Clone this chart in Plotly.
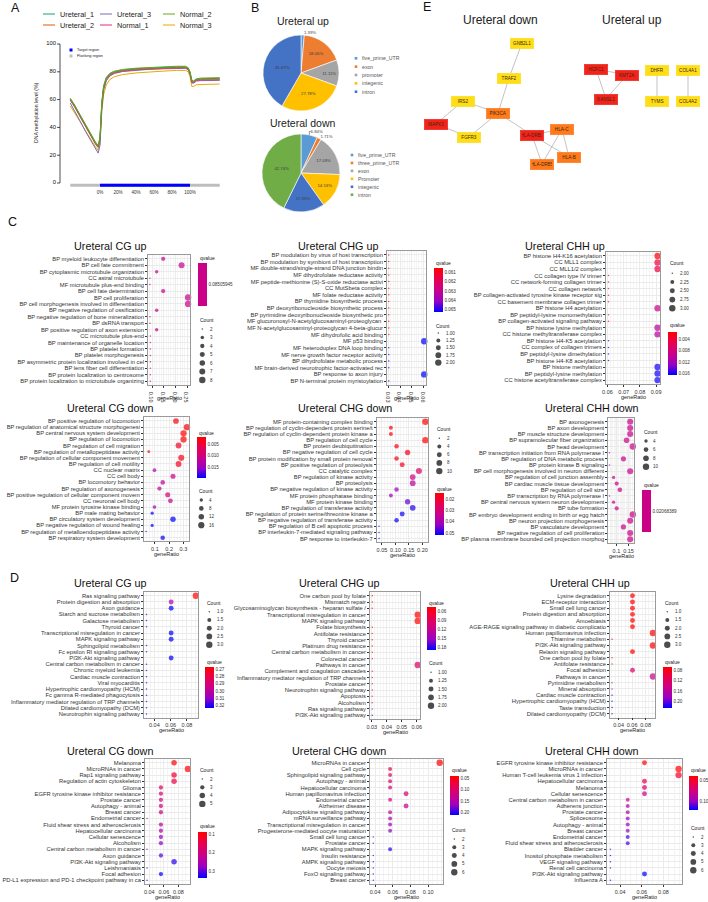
import plotly.graph_objects as go

W, H = 708, 902
FONT = "Liberation Sans, Arial, Helvetica, sans-serif"

# ======================= DATA =======================
# ---- Panel A : methylation profile ----
a_positions = [-33, -28, -22, -16, -10, -5, -2, 0, 2, 4, 7, 11, 16, 25, 40, 55, 70, 85, 95, 98, 100, 102, 104, 107, 112, 120, 133]
a_ureteral_1 = [60.5, 55.5, 48.5, 41.5, 34.5, 29, 26.5, 32, 57, 69, 75.5, 78.5, 80, 81.3, 82.3, 82.9, 83.3, 83.6, 83.6, 82.6, 79.6, 73.6, 73.2, 74.6, 75, 75.1, 75.3]
a_ureteral_2 = [60, 55, 48, 41, 34, 28.5, 26, 31.5, 56, 68.5, 75, 78, 79.6, 80.9, 81.9, 82.5, 82.9, 83.2, 83.2, 82.2, 79.2, 73, 72.8, 74.2, 74.6, 74.6, 74.8]
a_ureteral_3 = [57.5, 52, 44.5, 37, 30, 24.5, 21.5, 27, 53, 66.5, 73.5, 77, 78.8, 80.2, 81.2, 81.8, 82.2, 82.5, 82.5, 81.4, 78.3, 72, 71.8, 73.3, 73.7, 73.7, 73.9]
a_normal_1 = [59.5, 54.5, 47.5, 40.5, 33.5, 28, 25.5, 31, 55.5, 68, 74.5, 77.5, 79.2, 80.5, 81.5, 82.1, 82.5, 82.8, 82.8, 81.8, 78.8, 72.5, 72.3, 73.7, 74.1, 74.1, 74.3]
a_normal_2 = [61, 56, 49, 42, 35, 29.5, 27, 33, 58, 70, 76, 79, 80.5, 81.7, 82.6, 83.2, 83.6, 84, 84, 83, 80, 74, 73.5, 75, 75.5, 75.5, 75.8]
a_normal_3 = [55.5, 50.5, 44, 37.5, 31, 26, 23.5, 28.5, 51, 63.5, 70.5, 74.5, 76.5, 78, 79.2, 80, 80.5, 81, 81, 80, 76.5, 69.5, 69.5, 70.7, 71, 71, 71.2]
a_series_names = ["Ureteral_1", "Ureteral_3", "Normal_2", "Ureteral_2", "Normal_1", "Normal_3"]
a_y_ticks = [0, 20, 40, 60, 80, 100]
a_x_ticks = [0, 20, 40, 60, 80, 100]
a_x_ticklabels = ["0%", "20%", "40%", "60%", "80%", "100%"]
a_target_region = [0, 100]
a_flank_region = [-33, 133]

# ---- Panel B : genomic feature pies ----
b_up_labels = ["five_prime_UTR", "exon", "promoter", "integenic", "intron"]
b_up_values = [1.39, 18.06, 11.11, 27.78, 41.67]
b_down_labels = ["five_prime_UTR", "three_prime_UTR", "exon", "Promoter", "integenic", "intron"]
b_down_values = [6.84, 1.71, 17.09, 14.53, 17.09, 42.74]

# ---- Panel E : PPI networks ----
e_nodes = ["GNB2L1", "TRAF2", "IRS2", "PIK3CA", "MAPK3", "FGFR3", "HLA-DRB1", "HLA-C", "HLA-B", "HLA-DRB5",
           "HCFC1", "KMT2A", "KANSL1", "DHFR", "TYMS", "COL4A1", "COL4A2"]
e_node_level = ["low", "low", "low", "mid", "high", "low", "high", "mid", "mid", "mid",
                "high", "high", "high", "low", "low", "low", "low"]
e_edges = [("GNB2L1", "TRAF2"), ("TRAF2", "PIK3CA"), ("IRS2", "PIK3CA"), ("IRS2", "MAPK3"), ("MAPK3", "FGFR3"),
           ("FGFR3", "PIK3CA"), ("PIK3CA", "HLA-DRB1"), ("HLA-DRB1", "HLA-C"), ("HLA-DRB1", "HLA-B"),
           ("HLA-DRB1", "HLA-DRB5"), ("HLA-C", "HLA-B"), ("HLA-C", "HLA-DRB5"),
           ("HCFC1", "KMT2A"), ("HCFC1", "KANSL1"), ("KMT2A", "KANSL1"), ("DHFR", "TYMS"), ("COL4A1", "COL4A2")]

# ---- Panel C : GO dot plots ----
c_cg_up_terms = ["BP myeloid leukocyte differentiation", "BP cell fate commitment", "BP cytoplasmic microtubule organization",
                 "CC astral microtubule", "MF microtubule plus-end binding", "BP cell fate determination",
                 "BP cell proliferation", "BP cell morphogenesis involved in differentiation",
                 "BP negative regulation of ossification", "BP negative regulation of bone mineralization",
                 "BP dsRNA transport", "BP positive regulation of axon extension", "CC microtubule plus-end",
                 "BP maintenance of organelle location", "BP platelet formation", "BP platelet morphogenesis",
                 "BP asymmetric protein localization involved in cel", "BP lens fiber cell differentiation",
                 "BP protein localization to centrosome", "BP protein localization to microtubule organizing"]
c_cg_up_ratio = [0.147, 0.226, 0.119, 0.09, 0.09, 0.147, 0.254, 0.254, 0.119, 0.09, 0.09, 0.119, 0.092, 0.092, 0.092, 0.092, 0.092, 0.092, 0.092, 0.092]
c_cg_up_count = [4, 7, 3, 2, 2, 4, 8, 8, 3, 2, 2, 3, 2, 2, 2, 2, 2, 2, 2, 2]
c_cg_up_q = [0.08505945] * 20
c_cg_up_xticks = ["0.10", "0.15", "0.20", "0.25"]
c_cg_up_count_breaks = [2, 3, 4, 5, 6, 7, 8]
c_cg_up_q_breaks = ["0.08505945"]

c_chg_up_terms = ["BP modulation by virus of host transcription", "BP modulation by symbiont of host transcription",
                  "MF double-strand/single-strand DNA junction bindin", "MF dihydrofolate reductase activity",
                  "MF peptide-methionine (S)-S-oxide reductase activi", "CC MutSbeta complex",
                  "MF folate reductase activity", "BP thymidine biosynthetic process",
                  "BP deoxyribonucleoside biosynthetic process", "BP pyrimidine deoxyribonucleoside biosynthetic pro",
                  "MF glucuronosyl-N-acetylglucosaminyl-proteoglycan ", "MF N-acetylglucosaminyl-proteoglycan 4-beta-glucur",
                  "MF dihydrofolic acid binding", "MF p53 binding", "MF heteroduplex DNA loop binding",
                  "MF nerve growth factor receptor activity", "BP dihydrofolate metabolic process",
                  "MF brain-derived neurotrophic factor-activated rec", "BP response to axon injury",
                  "BP N-terminal protein myristoylation"]
c_chg_up_ratio = [0.0303] * 13 + [0.0606, 0.0303, 0.0303, 0.0303, 0.0303, 0.0606, 0.0303]
c_chg_up_count = [1] * 13 + [2, 1, 1, 1, 1, 2, 1]
c_chg_up_q = [0.0605] * 13 + [0.0653] * 7
c_chg_up_xticks = ["0.03", "0.04", "0.05", "0.06"]
c_chg_up_count_breaks = ["1.00", "1.25", "1.50", "1.75", "2.00"]
c_chg_up_q_breaks = ["0.061", "0.062", "0.063", "0.064", "0.065"]

c_chh_up_terms = ["BP histone H4-K16 acetylation", "CC MLL1 complex", "CC MLL1/2 complex", "CC collagen type IV trimer",
                  "CC network-forming collagen trimer", "CC collagen network",
                  "BP collagen-activated tyrosine kinase receptor sig", "CC basement membrane collagen trimer",
                  "BP histone H4 acetylation", "BP peptidyl-lysine monomethylation",
                  "BP collagen-activated signaling pathway", "BP histone lysine methylation",
                  "CC histone methyltransferase complex", "BP histone H4-K5 acetylation",
                  "CC complex of collagen trimers", "BP peptidyl-lysine dimethylation", "BP histone H4-K8 acetylation",
                  "BP histone methylation", "BP peptidyl-lysine methylation", "CC histone acetyltransferase complex"]
c_chh_up_ratio = [0.0909, 0.0909, 0.0909, 0.0606, 0.0606, 0.0606, 0.0606, 0.0606, 0.0909, 0.0606,
                  0.0606, 0.0909, 0.0909, 0.0606, 0.0606, 0.0606, 0.0606, 0.0909, 0.0909, 0.0909]
c_chh_up_count = [3, 3, 3, 2, 2, 2, 2, 2, 3, 2, 2, 3, 3, 2, 2, 2, 2, 3, 3, 3]
c_chh_up_q = [0.0014, 0.0045, 0.0045, 0.0038, 0.0038, 0.0038, 0.0038, 0.0038, 0.0088, 0.0045,
              0.0045, 0.0105, 0.0105, 0.0165, 0.0165, 0.0165, 0.0165, 0.016, 0.016, 0.016]
c_chh_up_xticks = ["0.06", "0.07", "0.08", "0.09"]
c_chh_up_count_breaks = ["2.00", "2.25", "2.50", "2.75", "3.00"]
c_chh_up_q_breaks = ["0.004", "0.008", "0.012", "0.016"]

c_cg_down_terms = ["BP positive regulation of locomotion", "BP regulation of anatomical structure morphogenesi",
                   "BP central nervous system development", "BP regulation of locomotion",
                   "BP regulation of cell migration", "BP regulation of metallopeptidase activity",
                   "BP regulation of cellular component movement", "BP regulation of cell motility",
                   "CC nuclear matrix", "CC cell body", "BP locomotory behavior", "BP regulation of axonogenesis",
                   "BP positive regulation of cellular component movem", "CC neuronal cell body",
                   "MF protein tyrosine kinase binding", "BP male mating behavior",
                   "BP circulatory system development", "BP negative regulation of wound healing",
                   "BP regulation of metalloendopeptidase activity", "BP respiratory system development"]
c_cg_down_ratio = [0.248, 0.325, 0.301, 0.301, 0.266, 0.057, 0.285, 0.266, 0.097, 0.227,
                   0.155, 0.132, 0.190, 0.209, 0.097, 0.081, 0.227, 0.081, 0.038, 0.155]
c_cg_down_count = [13, 17, 16, 16, 14, 3, 15, 14, 5, 10, 8, 7, 10, 9, 5, 4, 12, 4, 2, 8]
c_cg_down_q = [0.003, 0.002, 0.002, 0.002, 0.0045, 0.003, 0.003, 0.004, 0.014, 0.011,
               0.012, 0.012, 0.009, 0.011, 0.0145, 0.0198, 0.0198, 0.0198, 0.0198, 0.0195]
c_cg_down_xticks = ["0.1", "0.2", "0.3"]
c_cg_down_count_breaks = [4, 8, 12, 16]
c_cg_down_q_breaks = ["0.005", "0.010", "0.015"]

c_chg_down_terms = ["MF protein-containing complex binding", "BP regulation of cyclin-dependent protein serine/t",
                    "BP regulation of cyclin-dependent protein kinase a", "BP regulation of cell cycle",
                    "BP protein deubiquitination", "BP negative regulation of cell cycle",
                    "BP protein modification by small protein removal", "BP positive regulation of proteolysis",
                    "CC catalytic complex", "BP regulation of kinase activity", "BP proteolysis",
                    "BP negative regulation of kinase activity", "MF protein phosphatase binding",
                    "MF protein kinase binding", "BP regulation of transferase activity",
                    "BP regulation of protein serine/threonine kinase a", "BP negative regulation of transferase activity",
                    "BP regulation of B cell apoptotic process", "BP interleukin-7-mediated signaling pathway",
                    "BP response to interleukin-7"]
c_chg_down_ratio = [0.211, 0.083, 0.083, 0.211, 0.104, 0.145, 0.104, 0.125, 0.187, 0.164,
                    0.164, 0.104, 0.083, 0.145, 0.164, 0.125, 0.104, 0.039, 0.039, 0.039]
c_chg_down_count = [10, 4, 4, 10, 5, 7, 5, 6, 9, 8, 8, 5, 4, 7, 8, 6, 5, 2, 2, 2]
c_chg_down_q = [0.0150, 0.016, 0.016, 0.0148, 0.017, 0.018, 0.018, 0.019, 0.0277, 0.033,
                0.037, 0.042, 0.042, 0.046, 0.050, 0.051, 0.052, 0.052, 0.052, 0.052]
c_chg_down_xticks = ["0.05", "0.10", "0.15", "0.20"]
c_chg_down_count_breaks = [2, 4, 6, 8, 10]
c_chg_down_q_breaks = ["0.02", "0.03", "0.04", "0.05"]

c_chh_down_terms = ["BP axonogenesis", "BP axon development", "BP muscle structure development",
                    "BP supramolecular fiber organization", "BP head development",
                    "BP transcription initiation from RNA polymerase I", "BP regulation of DNA metabolic process",
                    "BP protein kinase B signaling", "BP cell morphogenesis involved in neuron different",
                    "BP regulation of cell junction assembly", "BP cardiac muscle tissue development",
                    "BP regulation of cell size", "BP transcription by RNA polymerase I",
                    "BP central nervous system neuron development", "BP tube formation",
                    "BP embryo development ending in birth or egg hatch", "BP neuron projection morphogenesis",
                    "BP vasculature development", "BP negative regulation of cell proliferation",
                    "BP plasma membrane bounded cell projection morphog"]
c_chh_down_ratio = [0.157, 0.157, 0.157, 0.142, 0.168, 0.071, 0.129, 0.071, 0.157, 0.088,
                    0.101, 0.114, 0.071, 0.088, 0.101, 0.168, 0.157, 0.129, 0.157, 0.157]
c_chh_down_count = [9, 9, 9, 8, 10, 3, 7, 3, 9, 4, 5, 6, 3, 4, 5, 10, 9, 7, 9, 9]
c_chh_down_q = [0.02068389] * 20
c_chh_down_xticks = ["0.1", "0.15"]
c_chh_down_count_breaks = [4, 6, 8, 10]
c_chh_down_q_breaks = ["0.02068389"]

# ---- Panel D : KEGG dot plots ----
d_cg_up_terms = ["Ras signaling pathway", "Protein digestion and absorption", "Axon guidance",
                 "Starch and sucrose metabolism", "Galactose metabolism", "Thyroid cancer",
                 "Transcriptional misregulation in cancer", "MAPK signaling pathway", "Sphingolipid metabolism",
                 "Fc epsilon RI signaling pathway", "PI3K-Akt signaling pathway", "Central carbon metabolism in cancer",
                 "Chronic myeloid leukemia", "Cardiac muscle contraction", "Viral myocarditis",
                 "Hypertrophic cardiomyopathy (HCM)", "Fc gamma R-mediated phagocytosis",
                 "Inflammatory mediator regulation of TRP channels", "Dilated cardiomyopathy (DCM)",
                 "Neurotrophin signaling pathway"]
d_cg_up_count = [3, 2, 2, 1, 1, 1, 2, 2, 1, 1, 2, 1, 1, 1, 1, 1, 1, 1, 1, 1]
d_cg_up_ratio = [0.0909, 0.0606, 0.0606, 0.0303, 0.0303, 0.0303, 0.0606, 0.0606, 0.0303, 0.0303,
                 0.0606, 0.0303, 0.0303, 0.0303, 0.0303, 0.0303, 0.0303, 0.0303, 0.0303, 0.0303]
d_cg_up_q = [0.2667, 0.302] + [0.3245] * 18
d_cg_up_xticks = ["0.04", "0.06", "0.08"]
d_cg_up_count_breaks = ["1.0", "1.5", "2.0", "2.5", "3.0"]
d_cg_up_q_breaks = ["0.27", "0.28", "0.29", "0.30", "0.31", "0.32"]

d_chg_up_terms = ["One carbon pool by folate", "Mismatch repair", "Glycosaminoglycan biosynthesis - heparan sulfate /",
                  "Transcriptional misregulation in cancer", "MAPK signaling pathway", "Folate biosynthesis",
                  "Antifolate resistance", "Thyroid cancer", "Platinum drug resistance",
                  "Central carbon metabolism in cancer", "Colorectal cancer", "Pathways in cancer",
                  "Complement and coagulation cascades", "Inflammatory mediator regulation of TRP channels",
                  "Prostate cancer", "Neurotrophin signaling pathway", "Apoptosis", "Alcoholism",
                  "Ras signaling pathway", "PI3K-Akt signaling pathway"]
d_chg_up_count = [1, 1, 1, 2, 2, 1, 1, 1, 1, 1, 1, 2, 1, 1, 1, 1, 1, 1, 1, 1]
d_chg_up_ratio = [0.0303, 0.0303, 0.0303, 0.0606, 0.0606, 0.0303, 0.0303, 0.0303, 0.0303, 0.0303,
                  0.0303, 0.0606, 0.0303, 0.0303, 0.0303, 0.0303, 0.0303, 0.0303, 0.0303, 0.0303]
d_chg_up_q = [0.046] * 11 + [0.095, 0.080, 0.082, 0.082, 0.082, 0.082, 0.082, 0.126, 0.191]
d_chg_up_xticks = ["0.03", "0.04", "0.05", "0.06"]
d_chg_up_count_breaks = ["1.00", "1.25", "1.50", "1.75", "2.00"]
d_chg_up_q_breaks = ["0.06", "0.09", "0.12", "0.15", "0.18"]

d_chh_up_terms = ["Lysine degradation", "ECM-receptor interaction", "Small cell lung cancer",
                  "Protein digestion and absorption", "Amoebiasis", "AGE-RAGE signaling pathway in diabetic complicatio",
                  "Human papillomavirus infection", "Thiamine metabolism", "PI3K-Akt signaling pathway",
                  "Relaxin signaling pathway", "One carbon pool by folate", "Antifolate resistance", "Focal adhesion",
                  "Pathways in cancer", "Pyrimidine metabolism", "Mineral absorption", "Cardiac muscle contraction",
                  "Hypertrophic cardiomyopathy (HCM)", "Taste transduction", "Dilated cardiomyopathy (DCM)"]
d_chh_up_count = [2, 2, 2, 2, 2, 2, 3, 1, 3, 2, 1, 1, 2, 3, 1, 1, 1, 1, 1, 1]
d_chh_up_ratio = [0.0606, 0.0606, 0.0606, 0.0606, 0.0606, 0.0606, 0.0909, 0.0303, 0.0909, 0.0606,
                  0.0303, 0.0303, 0.0606, 0.0909, 0.0303, 0.0303, 0.0303, 0.0303, 0.0303, 0.0303]
d_chh_up_q = [0.069] * 12 + [0.124, 0.147, 0.160, 0.180, 0.215, 0.226, 0.226, 0.226]
d_chh_up_xticks = ["0.04", "0.06", "0.08"]
d_chh_up_count_breaks = ["1.0", "1.5", "2.0", "2.5", "3.0"]
d_chh_up_q_breaks = ["0.08", "0.12", "0.16", "0.20"]

d_cg_down_terms = ["Melanoma", "MicroRNAs in cancer", "Rap1 signaling pathway", "Regulation of actin cytoskeleton",
                   "Glioma", "EGFR tyrosine kinase inhibitor resistance", "Prostate cancer", "Autophagy - animal",
                   "Breast cancer", "Endometrial cancer", "Fluid shear stress and atherosclerosis",
                   "Hepatocellular carcinoma", "Cellular senescence", "Alcoholism",
                   "Central carbon metabolism in cancer", "Axon guidance", "PI3K-Akt signaling pathway",
                   "Leishmaniasis", "Focal adhesion", "PD-L1 expression and PD-1 checkpoint pathway in ca"]
d_cg_down_count = [4, 5, 4, 4, 3, 3, 3, 3, 3, 2, 3, 3, 3, 3, 2, 3, 4, 2, 3, 2]
d_cg_down_ratio = [0.074, 0.093, 0.074, 0.074, 0.056, 0.056, 0.056, 0.056, 0.056, 0.037,
                   0.056, 0.056, 0.056, 0.056, 0.037, 0.056, 0.074, 0.037, 0.056, 0.037]
d_cg_down_q = [0.09, 0.09, 0.12, 0.15, 0.17, 0.19, 0.2, 0.2, 0.21, 0.22,
               0.24, 0.25, 0.26, 0.28, 0.29, 0.30, 0.32, 0.335, 0.335, 0.335]
d_cg_down_xticks = ["0.04", "0.06", "0.08"]
d_cg_down_count_breaks = [2, 3, 4, 5]
d_cg_down_q_breaks = ["0.1", "0.2", "0.3"]

d_chg_down_terms = ["MicroRNAs in cancer", "Cell cycle", "Sphingolipid signaling pathway", "Autophagy - animal",
                    "Hepatocellular carcinoma", "Human papillomavirus infection", "Endometrial cancer",
                    "Alzheimer disease", "Adipocytokine signaling pathway", "mRNA surveillance pathway",
                    "Transcriptional misregulation in cancer", "Progesterone-mediated oocyte maturation",
                    "Small cell lung cancer", "Prostate cancer", "MAPK signaling pathway", "Insulin resistance",
                    "AMPK signaling pathway", "Oocyte meiosis", "FoxO signaling pathway", "Breast cancer"]
d_chg_down_count = [6, 3, 3, 3, 3, 4, 3, 4, 3, 3, 3, 3, 2, 2, 3, 2, 2, 2, 2, 2]
d_chg_down_ratio = [0.113, 0.057, 0.057, 0.057, 0.057, 0.075, 0.057, 0.075, 0.057, 0.057,
                    0.057, 0.057, 0.038, 0.038, 0.057, 0.038, 0.038, 0.038, 0.038, 0.038]
d_chg_down_q = [0.04, 0.08, 0.09, 0.10, 0.11, 0.11, 0.12, 0.13, 0.14, 0.15,
                0.16, 0.17, 0.18, 0.19, 0.2, 0.21, 0.21, 0.21, 0.21, 0.21]
d_chg_down_xticks = ["0.04", "0.06", "0.08", "0.10"]
d_chg_down_count_breaks = [2, 3, 4, 5, 6]
d_chg_down_q_breaks = ["0.05", "0.10", "0.15", "0.20"]

d_chh_down_terms = ["EGFR tyrosine kinase inhibitor resistance", "MicroRNAs in cancer",
                    "Human T-cell leukemia virus 1 infection", "Hepatocellular carcinoma", "Melanoma",
                    "Cellular senescence", "Central carbon metabolism in cancer", "Adherens junction",
                    "Prostate cancer", "Spliceosome", "Autophagy - animal", "Breast cancer", "Endometrial cancer",
                    "Fluid shear stress and atherosclerosis", "Bladder cancer", "Inositol phosphate metabolism",
                    "VEGF signaling pathway", "Renal cell carcinoma", "PI3K-Akt signaling pathway", "Influenza A"]
d_chh_down_count = [4, 6, 6, 4, 4, 4, 3, 3, 3, 3, 3, 3, 3, 3, 2, 2, 2, 2, 4, 2]
d_chh_down_ratio = [0.0625, 0.094, 0.094, 0.0625, 0.0625, 0.0625, 0.047, 0.047, 0.047, 0.047,
                    0.047, 0.047, 0.047, 0.047, 0.031, 0.031, 0.031, 0.031, 0.0625, 0.031]
d_chh_down_q = [0.04, 0.04, 0.05, 0.06, 0.07, 0.08, 0.08, 0.09, 0.09, 0.10,
                0.10, 0.10, 0.11, 0.11, 0.11, 0.12, 0.12, 0.12, 0.12, 0.12]
d_chh_down_xticks = ["0.04", "0.06", "0.08"]
d_chh_down_count_breaks = [2, 3, 4, 5, 6]
d_chh_down_q_breaks = ["0.05", "0.10"]

# ======================= STYLE / LAYOUT =======================
A_COLORS = {"Ureteral_1": "#1B9E77", "Ureteral_2": "#D95F02", "Ureteral_3": "#7570B3",
            "Normal_1": "#E7298A", "Normal_2": "#66A61E", "Normal_3": "#E6AB02"}
A_SERIES = {"Ureteral_1": a_ureteral_1, "Ureteral_2": a_ureteral_2, "Ureteral_3": a_ureteral_3,
            "Normal_1": a_normal_1, "Normal_2": a_normal_2, "Normal_3": a_normal_3}
A_BOX = dict(left=60, right=230, top=40, bottom=188, ylo=-3.6, yhi=102.9)
PIE_UP_COLORS = ["#5B9BD5", "#ED7D31", "#A5A5A5", "#FFC000", "#4472C4"]
PIE_DOWN_COLORS = ["#5B9BD5", "#ED7D31", "#A5A5A5", "#FFC000", "#4472C4", "#70AD47"]
NODE_COLORS = {"high": "#F2231B", "mid": "#FF7A1C", "low": "#FFDD17"}
NODE_POS = {"GNB2L1": (522, 43), "TRAF2": (509, 78), "IRS2": (463, 101), "PIK3CA": (498, 113),
            "MAPK3": (436, 124), "FGFR3": (469, 137), "HLA-DRB1": (532, 135), "HLA-C": (562, 129),
            "HLA-B": (569, 157), "HLA-DRB5": (542, 164), "HCFC1": (596, 69), "KMT2A": (627, 75),
            "KANSL1": (606, 99), "DHFR": (657, 70), "TYMS": (657, 101), "COL4A1": (688, 70), "COL4A2": (688, 101)}

SCALE = [[0.0, "#0000FF"], [0.25, "rgb(154,0,195)"], [0.5, "rgb(202,0,136)"], [0.75, "rgb(232,0,79)"], [1.0, "#FF0000"]]
MID = "rgb(202,0,136)"

PANELS = [
    dict(t="Ureteral CG up", terms=c_cg_up_terms, r=c_cg_up_ratio, c=c_cg_up_count, q=c_cg_up_q,
         xt=c_cg_up_xticks, cb=c_cg_up_count_breaks, qb=c_cg_up_q_breaks,
         box=(148, 255, 190, 385), tc=(110, 246), lx=198,
         qt=258, cbt=263, cbb=306, ct=320, c0=329, cs=8.5),
    dict(t="Ureteral CHG up", terms=c_chg_up_terms, r=c_chg_up_ratio, c=c_chg_up_count, q=c_chg_up_q,
         xt=c_chg_up_xticks, cb=c_chg_up_count_breaks, qb=c_chg_up_q_breaks,
         box=(387, 251, 426, 385), tc=(338, 246), lx=434,
         qt=263, cbt=268, cbb=312, ct=326, c0=333, cs=7.4),
    dict(t="Ureteral CHH up", terms=c_chh_up_terms, r=c_chh_up_ratio, c=c_chh_up_count, q=c_chh_up_q,
         xt=c_chh_up_xticks, cb=c_chh_up_count_breaks, qb=c_chh_up_q_breaks,
         box=(606, 252, 660, 384), tc=(565, 246), lx=668,
         qt=325, cbt=331.7, cbb=375, ct=263, c0=273.3, cs=8.75),
    dict(t="Ureteral CG down", terms=c_cg_down_terms, r=c_cg_down_ratio, c=c_cg_down_count, q=c_cg_down_q,
         xt=c_cg_down_xticks, cb=c_cg_down_count_breaks, qb=c_cg_down_q_breaks,
         box=(144, 417.3, 189, 541.4), tc=(110, 408), lx=197,
         qt=432.7, cbt=437.3, cbb=478.3, ct=491, c0=500, cs=8.4),
    dict(t="Ureteral CHG down", terms=c_chg_down_terms, r=c_chg_down_ratio, c=c_chg_down_count, q=c_chg_down_q,
         xt=c_chg_down_xticks, cb=c_chg_down_count_breaks, qb=c_chg_down_q_breaks,
         box=(376.7, 418, 427.7, 542.3), tc=(345, 408), lx=435,
         qt=489, cbt=493.3, cbb=535, ct=429, c0=438.3, cs=8.2),
    dict(t="Ureteral CHH down", terms=c_chh_down_terms, r=c_chh_down_ratio, c=c_chh_down_count, q=c_chh_down_q,
         xt=c_chh_down_xticks, cb=c_chh_down_count_breaks, qb=c_chh_down_q_breaks,
         box=(608.3, 418, 634, 543), tc=(592, 408), lx=641.7,
         qt=485, cbt=490, cbb=531.7, ct=432.3, c0=441, cs=8.6),
    dict(t="Ureteral CG up", terms=d_cg_up_terms, r=d_cg_up_ratio, c=d_cg_up_count, q=d_cg_up_q,
         xt=d_cg_up_xticks, cb=d_cg_up_count_breaks, qb=d_cg_up_q_breaks,
         box=(144, 592, 198.3, 717.7), tc=(110, 582.7), lx=205,
         qt=662.3, cbt=667.3, cbb=708.7, ct=603.3, c0=611.7, cs=8.25),
    dict(t="Ureteral CHG up", terms=d_chg_up_terms, r=d_chg_up_ratio, c=d_chg_up_count, q=d_chg_up_q,
         xt=d_chg_up_xticks, cb=d_chg_up_count_breaks, qb=d_chg_up_q_breaks,
         box=(370, 592, 420, 719), tc=(339, 582.7), lx=426.7,
         qt=602.7, cbt=607.3, cbb=650.3, ct=663, c0=672.3, cs=8.35),
    dict(t="Ureteral CHH up", terms=d_chh_up_terms, r=d_chh_up_ratio, c=d_chh_up_count, q=d_chh_up_q,
         xt=d_chh_up_xticks, cb=d_chh_up_count_breaks, qb=d_chh_up_q_breaks,
         box=(610, 592, 655, 717.5), tc=(590, 582.7), lx=663,
         qt=662.3, cbt=667.3, cbb=708.7, ct=602.7, c0=611.7, cs=8.25),
    dict(t="Ureteral CG down", terms=d_cg_down_terms, r=d_cg_down_ratio, c=d_cg_down_count, q=d_cg_down_q,
         xt=d_cg_down_xticks, cb=d_cg_down_count_breaks, qb=d_cg_down_q_breaks,
         box=(145, 759, 190, 884), tc=(110, 751), lx=198,
         qt=826, cbt=832, cbb=878, ct=770, c0=779, cs=8.3),
    dict(t="Ureteral CHG down", terms=d_chg_down_terms, r=d_chg_down_ratio, c=d_chg_down_count, q=d_chg_down_q,
         xt=d_chg_down_xticks, cb=d_chg_down_count_breaks, qb=d_chg_down_q_breaks,
         box=(370, 759, 443, 884), tc=(339, 751), lx=450,
         qt=770, cbt=776, cbb=815, ct=830, c0=839, cs=8.3),
    dict(t="Ureteral CHH down", terms=d_chh_down_terms, r=d_chh_down_ratio, c=d_chh_down_count, q=d_chh_down_q,
         xt=d_chh_down_xticks, cb=d_chh_down_count_breaks, qb=d_chh_down_q_breaks,
         box=(607, 759, 682, 884), tc=(592, 751), lx=689,
         qt=770, cbt=776, cbb=810, ct=828, c0=837, cs=8.3),
]

OV = 14  # overlay axis in page-pixel coordinates


def fx(px):
    return px / W


def fy(py):
    return 1 - py / H


def dot_size(c, lo, hi):
    t = (c - lo) / (hi - lo) if hi > lo else 1.0
    return 1.5 + 4.9 * t ** 0.5


def a_tick_px(v):
    # pixel row of a y-axis tick value of panel A (same linear scale as the axis range)
    return A_BOX["top"] + (A_BOX["yhi"] - v) / (A_BOX["yhi"] - A_BOX["ylo"]) * (A_BOX["bottom"] - A_BOX["top"])


fig = go.Figure()
annotations = []
shapes = []
layout = dict(width=W, height=H, margin=dict(l=0, r=0, t=0, b=0), paper_bgcolor="white",
              plot_bgcolor="rgba(0,0,0,0)", showlegend=False, font=dict(family=FONT, color="#222"))


def ann(x, y, text, size, color="#222", xanchor="center", yanchor="middle", angle=0, **kw):
    d = dict(x=x, y=y, xref=f"x{OV}", yref=f"y{OV}", text=text, showarrow=False,
             font=dict(size=size, color=color, family=FONT), xanchor=xanchor, yanchor=yanchor,
             textangle=angle)
    d.update(kw)
    annotations.append(d)


# ---------------- Panel A ----------------
for name in ["Normal_3", "Ureteral_3", "Normal_1", "Ureteral_2", "Ureteral_1", "Normal_2"]:
    fig.add_trace(go.Scatter(x=a_positions, y=A_SERIES[name], mode="lines",
                             line=dict(color=A_COLORS[name], width=1), xaxis="x", yaxis="y"))
fig.add_trace(go.Scatter(x=a_flank_region, y=[-1.65, -1.65], mode="lines",
                         line=dict(color="#BEBEBE", width=3), xaxis="x", yaxis="y"))
fig.add_trace(go.Scatter(x=a_target_region, y=[-1.65, -1.65], mode="lines",
                         line=dict(color="#0000FF", width=3), xaxis="x", yaxis="y"))
layout["xaxis"] = dict(domain=[fx(A_BOX["left"]), fx(A_BOX["right"])], range=[-44.4, 144.4], anchor="y",
                       tickvals=a_x_ticks, ticktext=a_x_ticklabels, ticks="", showline=False,
                       showgrid=False, zeroline=False, tickfont=dict(size=4.6, color="#333"))
layout["yaxis"] = dict(domain=[fy(A_BOX["bottom"]), fy(A_BOX["top"])], range=[A_BOX["ylo"], A_BOX["yhi"]],
                       anchor="x", showticklabels=False, ticks="", showline=False, showgrid=False, zeroline=False)
# y axis of panel A (base-R style): line from 0 to 100 with outward ticks and labels
a_tick_rows = [a_tick_px(tv) for tv in a_y_ticks]
ax_x, ax_y = [A_BOX["left"], A_BOX["left"]], [a_tick_rows[0], a_tick_rows[-1]]
for ty in a_tick_rows:
    ax_x += [None, A_BOX["left"] - 3, A_BOX["left"]]
    ax_y += [None, ty, ty]
fig.add_trace(go.Scatter(x=ax_x, y=ax_y, mode="lines", line=dict(color="#222", width=0.8),
                         xaxis=f"x{OV}", yaxis=f"y{OV}", cliponaxis=False))
fig.add_trace(go.Scatter(x=[A_BOX["left"] - 4] * len(a_y_ticks), y=a_tick_rows, mode="text",
                         text=[str(tv) for tv in a_y_ticks], textposition="middle left",
                         textfont=dict(size=5.8, color="#111", family=FONT),
                         xaxis=f"x{OV}", yaxis=f"y{OV}", cliponaxis=False))
ann(36, 113, "DNA methylation level (%)", 5.2, angle=-90)
# legend of panel A
leg_pos = [(43, 14), (100, 14), (163, 14), (43, 25), (100, 25), (163, 25)]
for name, (lx, ly) in zip(a_series_names, leg_pos):
    fig.add_trace(go.Scatter(x=[lx, lx + 12], y=[ly, ly], mode="lines", line=dict(color=A_COLORS[name], width=1),
                             xaxis=f"x{OV}", yaxis=f"y{OV}", cliponaxis=False))
    ann(lx + 15, ly, name, 7.3, xanchor="left")
fig.add_trace(go.Scatter(x=[71, 71], y=[50, 56], mode="markers",
                         marker=dict(symbol="square", size=3, color=["#0000FF", "#BEBEBE"]),
                         xaxis=f"x{OV}", yaxis=f"y{OV}", cliponaxis=False))
ann(75, 50, "Target region", 3.8, xanchor="left")
ann(75, 56, "Flanking region", 3.8, xanchor="left")

# ---------------- Panel B ----------------
for labels, values, colors, dom, title_y, lg_x, lg_y0, lg_step in [
    (b_up_labels, b_up_values, PIE_UP_COLORS, (263, 339, 35, 111), 21, 356, 58.3, 8.35),
    (b_down_labels, b_down_values, PIE_DOWN_COLORS, (262, 340, 134, 212), 123, 352, 155, 7.95),
]:
    fig.add_trace(go.Pie(labels=labels, values=values, sort=False, direction="clockwise", rotation=0,
                         marker=dict(colors=colors, line=dict(color="white", width=0.6)),
                         text=[f"{v:.2f}%" for v in values], textinfo="text",
                         textposition=["outside" if v < 5 or (v < 8 and len(values) == 6) else "inside" for v in values],
                         insidetextorientation="horizontal",
                         textfont=dict(size=4.3, color="#404040", family=FONT),
                         domain=dict(x=[fx(dom[0]), fx(dom[1])], y=[fy(dom[3]), fy(dom[2])])))
    ann(303, title_y, "Ureteral up" if len(values) == 5 else "Ureteral down", 10.5)
    ys = [lg_y0 + i * lg_step for i in range(len(labels))]
    fig.add_trace(go.Scatter(x=[lg_x] * len(labels), y=ys, mode="markers",
                             marker=dict(symbol="square", size=2.6, color=colors),
                             xaxis=f"x{OV}", yaxis=f"y{OV}", cliponaxis=False))
    for lab, yy in zip(labels, ys):
        ann(lg_x + 3.5, yy, lab, 5.2, color="#555", xanchor="left")

# ---------------- Panel E ----------------
ex, ey = [], []
for a, b in e_edges:
    ex += [NODE_POS[a][0], NODE_POS[b][0], None]
    ey += [NODE_POS[a][1], NODE_POS[b][1], None]
fig.add_trace(go.Scatter(x=ex, y=ey, mode="lines", line=dict(color="#9A9A9A", width=0.6),
                         xaxis=f"x{OV}", yaxis=f"y{OV}", cliponaxis=False))
for nm, lvl in zip(e_nodes, e_node_level):
    px, py = NODE_POS[nm]
    ann(px, py, nm, 4.6, color="#3A2A10", bgcolor=NODE_COLORS[lvl], bordercolor=NODE_COLORS[lvl],
        borderwidth=0.5, borderpad=1.6, width=20, height=7)
ann(500, 20, "Ureteral down", 12)
ann(632, 20, "Ureteral up", 12)

# ---------------- Panel labels ----------------
for lab, (x, y) in {"A": (15, 8), "B": (255, 8), "E": (427, 7), "C": (12, 222), "D": (14, 578)}.items():
    ann(x, y, lab, 12.5, color="#111")

# ---------------- Dot plots (C and D) ----------------
for k, p in enumerate(PANELS):
    n = k + 2
    x0, y0, x1, y1 = p["box"]
    nterm = len(p["terms"])
    rmin, rmax = min(p["r"]), max(p["r"])
    pad = 0.05 * (rmax - rmin)
    qmin, qmax = min(p["q"]), max(p["q"])
    cmin_, cmax_ = min(p["c"]), max(p["c"])
    single = qmax == qmin
    yidx = list(range(nterm))
    fig.add_trace(go.Scatter(
        x=p["r"], y=yidx, mode="markers", xaxis=f"x{n}", yaxis=f"y{n}", cliponaxis=False,
        marker=dict(size=[dot_size(c, cmin_, cmax_) for c in p["c"]], color=[-q for q in p["q"]],
                    coloraxis=f"coloraxis{n}", line=dict(width=0))))
    layout[f"xaxis{n}"] = dict(
        domain=[fx(x0), fx(x1)], anchor=f"y{n}", range=[rmin - pad, rmax + pad],
        tickvals=[float(v) for v in p["xt"]], ticktext=p["xt"], ticks="outside", ticklen=2, tickwidth=0.6,
        tickcolor="#333", tickfont=dict(size=5.5, color="#333"), showline=True, mirror=True,
        linecolor="#9A9A9A", linewidth=0.8, showgrid=True, gridcolor="#EBEBEB", gridwidth=0.6,
        zeroline=False, minor=dict(showgrid=True, gridcolor="#F4F4F4", gridwidth=0.4), automargin=False)
    layout[f"yaxis{n}"] = dict(
        domain=[fy(y1), fy(y0)], anchor=f"x{n}", range=[nterm - 1 + 0.6, -0.6],
        tickvals=yidx, ticktext=p["terms"], ticks="outside", ticklen=2, tickwidth=0.6, tickcolor="#333",
        tickfont=dict(size=5.8, color="#333"), showline=True, mirror=True, linecolor="#9A9A9A",
        linewidth=0.8, showgrid=True, gridcolor="#EBEBEB", gridwidth=0.6, zeroline=False, automargin=False)
    # colour bar
    if single:
        cax = dict(colorscale=[[0, MID], [1, MID]], cmin=-qmax - 1e-6, cmax=-qmin + 1e-6)
        tv = [-qmin]
    else:
        cax = dict(colorscale=SCALE, cmin=-qmax, cmax=-qmin)
        tv = [-float(v) for v in p["qb"]]
    lx = p["lx"]
    cax["colorbar"] = dict(x=fx(lx), xanchor="left", y=fy(p["cbt"]), yanchor="top",
                           len=(p["cbb"] - p["cbt"]) / H, lenmode="fraction", thickness=8.5,
                           thicknessmode="pixels", xpad=0, ypad=0, outlinewidth=0, ticks="",
                           tickvals=tv, ticktext=p["qb"], tickfont=dict(size=4.6, color="#333", family=FONT))
    layout[f"coloraxis{n}"] = cax
    # legends
    ann(lx, p["qt"], "qvalue", 5, xanchor="left")
    ann(lx, p["ct"], "Count", 5, xanchor="left")
    ys = [p["c0"] + i * p["cs"] for i in range(len(p["cb"]))]
    fig.add_trace(go.Scatter(x=[lx + 4.3] * len(ys), y=ys, mode="markers", xaxis=f"x{OV}", yaxis=f"y{OV}",
                             cliponaxis=False,
                             marker=dict(color="black", size=[dot_size(float(b), cmin_, cmax_) for b in p["cb"]],
                                         line=dict(width=0))))
    for b, yy in zip(p["cb"], ys):
        ann(lx + 9.5, yy, str(b), 4.5, color="#333", xanchor="left")
    # title and axis title
    ann(p["tc"][0], p["tc"][1], p["t"], 10.8, color="#111")
    ann((x0 + x1) / 2, y1 + 12.5, "geneRatio", 5.5, color="#222")

layout[f"xaxis{OV}"] = dict(domain=[0, 1], range=[0, W], visible=False, anchor=f"y{OV}", fixedrange=True)
layout[f"yaxis{OV}"] = dict(domain=[0, 1], range=[H, 0], visible=False, anchor=f"x{OV}", fixedrange=True)
layout["annotations"] = annotations
layout["shapes"] = shapes
fig.update_layout(**layout)
fig.write_html("out.html")
